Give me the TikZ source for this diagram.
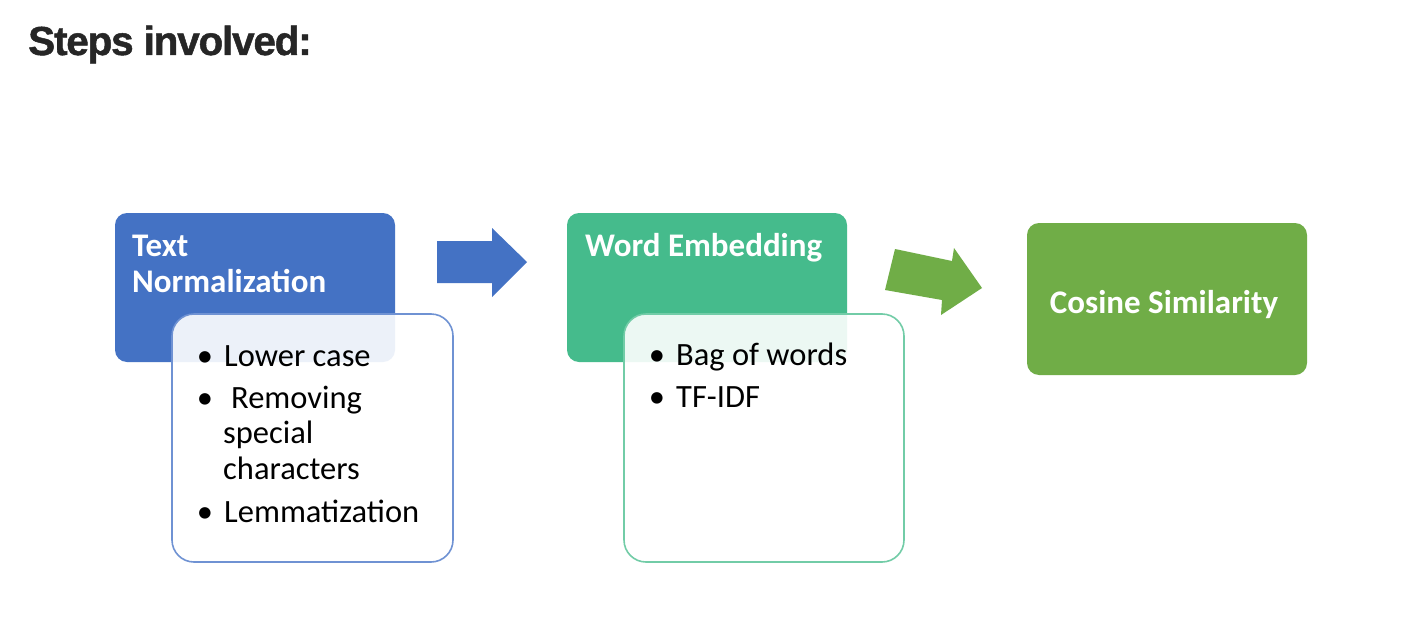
\documentclass[tikz,border=0pt]{standalone}
\usepackage{fontspec}
\newfontfamily\carlito{Carlito}
\newfontfamily\titlefont[LetterSpace=-3,FakeBold=1.2]{Liberation Sans}
\definecolor{cblue}{HTML}{4472C4}
\definecolor{cteal}{HTML}{45BB8C}
\definecolor{cgreen}{HTML}{70AD47}
\definecolor{cbluel}{HTML}{6F92D3}
\definecolor{ctealL}{HTML}{72CCA7}
\definecolor{ctitle}{HTML}{262626}
\tikzset{
  headbox/.style={rounded corners=12pt},
  childbox/.style={rounded corners=22pt, fill=white, fill opacity=0.9, line width=1.6pt},
  headtxt/.style={anchor=base west, inner sep=0pt, text=white, font=\carlito\bfseries\fontsize{33}{36}\selectfont},
  itemtxt/.style={anchor=base west, inner sep=0pt, text=black, font=\carlito\fontsize{32.5}{36}\selectfont},
  bul/.style={anchor=base, inner sep=0pt, text=black, font=\carlito\fontsize{32.5}{36}\selectfont},
}
\begin{document}
\begin{tikzpicture}[x=1pt,y=-1pt]
\useasboundingbox (0,0) rectangle (1402,642);
\fill[white] (0,0) rectangle (1402,642);
% title
\node[anchor=base west, inner sep=0pt, text=ctitle, font=\titlefont\bfseries\fontsize{40.5}{44}\selectfont] (title) at (28,55) {Steps involved:};
% box 1
\fill[cblue, headbox] (115,213) rectangle (395,362);
\node[headtxt] (t1a) at (132,256) {Text};
\node[headtxt] (t1b) at (132,292) {Normalization};
\draw[cbluel, childbox] (172,314) rectangle (453,562);
\node[bul] (b1a) at (205,366) {•};
\node[itemtxt] (i1a) at (224,366) {Lower case};
\node[bul] (b1b) at (205,408) {•};
\node[itemtxt] (i1b) at (231,408) {Removing};
\node[itemtxt] (i1c) at (223,443) {special};
\node[itemtxt] (i1d) at (223,479) {characters};
\node[bul] (b1e) at (205,522) {•};
\node[itemtxt] (i1e) at (224,522) {Lemmatization};
% arrow 1
\fill[cblue] (437,241) -- (492,241) -- (492,228) -- (527,262) -- (492,297) -- (492,283) -- (437,283) -- cycle;
% box 2
\fill[cteal, headbox] (567,213) rectangle (847,362);
\node[headtxt] (t2) at (585,256) {Word Embedding};
\draw[ctealL, childbox] (624,314) rectangle (904,562);
\node[bul] (b2a) at (657,365) {•};
\node[itemtxt] (i2a) at (676,365) {Bag of words};
\node[bul] (b2b) at (657,407) {•};
\node[itemtxt] (i2b) at (676,407) {TF-IDF};
% arrow 2
\fill[cgreen] (895,249) -- (952,261) -- (954,248) -- (982,288) -- (941,315) -- (942,300) -- (885,290) -- cycle;
% box 3
\fill[cgreen, headbox] (1027,223) rectangle (1307,375);
\node[headtxt, anchor=base] (t3) at (1164,313) {Cosine Similarity};
\end{tikzpicture}
\end{document}
